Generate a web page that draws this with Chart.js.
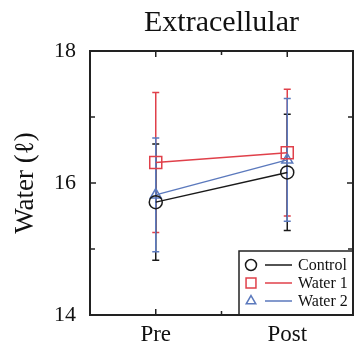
<!DOCTYPE html>
<html>
<head>
<meta charset="utf-8">
<script src="https://cdn.jsdelivr.net/npm/chart.js@4/dist/chart.umd.min.js"></script>
<style>
html,body{margin:0;padding:0;background:#fff;}
#wrap{width:354px;height:352px;position:relative;}
</style>
</head>
<body>
<div id="wrap"><canvas id="c" width="354" height="352"></canvas></div>
<script>
// ---- data ----
const categories = ['Pre', 'Post'];
const seriesNames = ['Control', 'Water 1', 'Water 2'];
const controlMean = [15.71, 16.16];
const controlSD   = [0.88, 0.88];
const water1Mean  = [16.31, 16.46];
const water1SD    = [1.06, 0.96];
const water2Mean  = [15.82, 16.35];
const water2SD    = [0.86, 0.93];
const yTickValues = [14, 15, 16, 17, 18];
const yLabelValues = [14, 16, 18];
const chartTitle = 'Extracellular';
const yTitle = 'Water (ℓ)';

const BLACK = '#1a1a1a', RED = '#e0404a', BLUE = '#5b79bd';
const SERIF = '"Liberation Serif", "DejaVu Serif", serif';

const errs = [controlSD, water1SD, water2SD];
const colors = [BLACK, RED, BLUE];
const styles = ['circle', 'rect', 'triangle'];
const radii = [6.5, 8.5, 6.3];

const errorBarPlugin = {
  id: 'errorBars',
  beforeDatasetsDraw(chart) {
    const {ctx, scales: {x, y}} = chart;
    ctx.save();
    ctx.lineWidth = 1.5;
    [1, 0, 2].forEach(di => {
      const ds = chart.data.datasets[di];
      ctx.strokeStyle = colors[di];
      ds.data.forEach((v, i) => {
        const px = x.getPixelForValue(i);
        const top = y.getPixelForValue(v + errs[di][i]);
        const bot = y.getPixelForValue(v - errs[di][i]);
        ctx.beginPath();
        ctx.moveTo(px, top); ctx.lineTo(px, bot);
        ctx.moveTo(px - 3.5, top); ctx.lineTo(px + 3.5, top);
        ctx.moveTo(px - 3.5, bot); ctx.lineTo(px + 3.5, bot);
        ctx.stroke();
      });
    });
    ctx.restore();
  }
};

const framePlugin = {
  id: 'frame',
  afterDraw(chart) {
    const {ctx, chartArea: a, scales: {x, y}} = chart;
    ctx.save();
    ctx.strokeStyle = '#222';
    ctx.lineWidth = 1.5;
    yTickValues.forEach(v => {
      const py = y.getPixelForValue(v);
      const len = yLabelValues.includes(v) ? 6 : 5;
      ctx.beginPath();
      ctx.moveTo(a.left, py); ctx.lineTo(a.left + len, py);
      ctx.moveTo(a.right, py); ctx.lineTo(a.right - len, py);
      ctx.stroke();
    });
    [0, 0.5, 1].forEach(v => {
      const px = x.getPixelForValue(v);
      const len = v === 0.5 ? 4 : 6;
      ctx.beginPath();
      ctx.moveTo(px, a.top); ctx.lineTo(px, a.top + len);
      ctx.moveTo(px, a.bottom); ctx.lineTo(px, a.bottom - len);
      ctx.stroke();
    });
    // legend box
    const lw = 114, lh = 64;
    const lx = a.right - lw, ly = a.bottom - lh;
    ctx.fillStyle = '#fff';
    ctx.fillRect(lx, ly, lw, lh);
    ctx.lineWidth = 1.5;
    ctx.strokeRect(lx, ly, lw, lh);
    chart.data.datasets.forEach((ds, i) => {
      const rowY = ly + 14 + i * 18;
      const mx = lx + 12;
      ctx.lineWidth = 1.5;
      ctx.strokeStyle = colors[i];
      ctx.fillStyle = 'rgba(0,0,0,0)';
      Chart.helpers.drawPoint(ctx, {pointStyle: styles[i], radius: i === 1 ? 7 : 5.5, borderWidth: 1.5, rotation: 0}, mx, rowY);
      ctx.beginPath();
      ctx.moveTo(lx + 26, rowY); ctx.lineTo(lx + 53, rowY);
      ctx.stroke();
      ctx.fillStyle = '#111';
      ctx.font = '16px ' + SERIF;
      ctx.textBaseline = 'middle';
      ctx.textAlign = 'left';
      ctx.fillText(ds.label, lx + 59, rowY + 1);
    });
    ctx.strokeStyle = '#222';
    ctx.lineWidth = 2;
    ctx.strokeRect(a.left, a.top, a.right - a.left, a.bottom - a.top);
    ctx.restore();
  }
};

function mkDs(i, data) {
  return {
    label: seriesNames[i],
    data: data,
    borderColor: colors[i],
    backgroundColor: 'rgba(0,0,0,0)',
    borderWidth: 1.5,
    pointStyle: styles[i],
    pointRadius: radii[i],
    pointBorderWidth: 1.5,
    pointBorderColor: colors[i],
    pointBackgroundColor: 'rgba(255,255,255,0)',
    tension: 0
  };
}

new Chart(document.getElementById('c'), {
  type: 'line',
  data: {
    labels: categories,
    datasets: [mkDs(0, controlMean), mkDs(1, water1Mean), mkDs(2, water2Mean)]
  },
  options: {
    responsive: false,
    animation: false,
    devicePixelRatio: 1,
    layout: {autoPadding: false, padding: {right: 1, top: 0, left: 0, bottom: 0}},
    plugins: {
      legend: {display: false},
      tooltip: {enabled: false},
      title: {
        display: true,
        text: chartTitle,
        fullSize: false,
        color: '#111',
        font: {family: SERIF, size: 30, weight: 'normal'},
        padding: {top: 5, bottom: 10}
      }
    },
    scales: {
      x: {
        type: 'category',
        offset: true,
        afterFit: s => { s.height = 37; s.paddingLeft = 0; s.paddingRight = 0; },
        grid: {display: false, drawTicks: false},
        border: {display: false},
        ticks: {color: '#111', font: {family: SERIF, size: 23}, padding: 6, maxRotation: 0}
      },
      y: {
        min: 14, max: 18,
        afterFit: s => { s.width = 90; },
        afterBuildTicks: s => { s.ticks = yTickValues.map(v => ({value: v})); },
        grid: {display: false, drawTicks: false},
        border: {display: false},
        ticks: {
          color: '#111', font: {family: SERIF, size: 22}, padding: 14,
          callback: v => yLabelValues.includes(v) ? String(v) : ''
        },
        title: {
          display: true, text: yTitle, color: '#111',
          font: {family: SERIF, size: 27}, padding: {top: 10, bottom: 0}
        }
      }
    }
  },
  plugins: [errorBarPlugin, framePlugin]
});
</script>
</body>
</html>
